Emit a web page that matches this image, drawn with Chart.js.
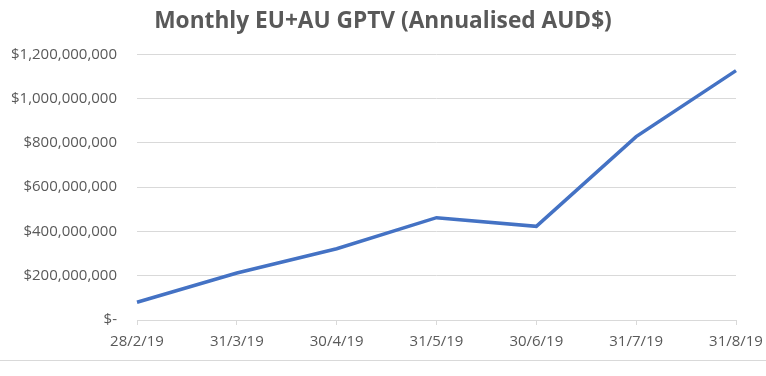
<!DOCTYPE html>
<html>
<head>
<meta charset="utf-8">
<script src="https://cdn.jsdelivr.net/npm/chart.js@4"></script>
<style>
  html, body { margin: 0; padding: 0; background: #fff; overflow: hidden; }
  #wrap { width: 766px; height: 360px; border-bottom: 1px solid #d9d9d9; position: relative; }
</style>
</head>
<body>
<div id="wrap"><canvas id="c" width="766" height="360"></canvas></div>
<script>
const categories = ['28/2/19', '31/3/19', '30/4/19', '31/5/19', '30/6/19', '31/7/19', '31/8/19'];
const gptvValues = [80000000, 212000000, 322000000, 462000000, 423000000, 828000000, 1126000000];
const yTicks = [0, 200000000, 400000000, 600000000, 800000000, 1000000000, 1200000000];
const chartTitle = 'Monthly EU+AU GPTV (Annualised AUD$)';

const FONT = "'Open Sans', sans-serif";
const TXT = '#595959';
const GRID = '#d9d9d9';

new Chart(document.getElementById('c'), {
  type: 'line',
  data: {
    labels: categories,
    datasets: [{
      data: gptvValues,
      borderColor: '#4472C4',
      borderWidth: 3.5,
      pointRadius: 0,
      tension: 0,
      fill: false
    }]
  },
  options: {
    responsive: false,
    animation: false,
    layout: { padding: { top: 0, left: 0, right: 0, bottom: 1 } },
    plugins: {
      legend: { display: false },
      tooltip: { enabled: false },
      title: {
        display: true,
        text: chartTitle,
        color: TXT,
        font: { family: FONT, size: 22.7, weight: 'bold' },
        padding: { top: 8, bottom: 19 }
      }
    },
    scales: {
      x: {
        type: 'category',
        offset: false,
        afterFit: (s) => { s.paddingRight = 30; s.paddingLeft = 0; },
        grid: { drawOnChartArea: false, drawTicks: true, tickLength: 5, color: GRID, lineWidth: 1 },
        border: { display: true, color: GRID, width: 1 },
        ticks: { color: TXT, font: { family: FONT, size: 15 }, padding: 8, maxRotation: 0, autoSkip: false }
      },
      y: {
        min: 0,
        max: 1200000000,
        afterFit: (s) => { s.width = 137; },
        afterBuildTicks: (s) => { s.ticks = yTicks.map(v => ({ value: v })); },
        grid: { drawTicks: false, color: GRID, lineWidth: 1 },
        border: { display: false },
        ticks: {
          color: TXT,
          font: { family: FONT, size: 15 },
          padding: 20,
          callback: (v) => v === 0 ? '$-' : '$' + Number(v).toLocaleString('en-US')
        }
      }
    }
  }
});
</script>
</body>
</html>
